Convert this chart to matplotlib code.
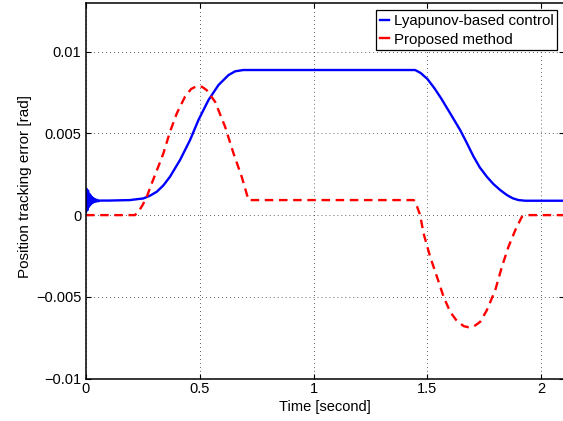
import matplotlib
matplotlib.use("Agg")
import matplotlib.pyplot as plt
from matplotlib.ticker import FuncFormatter

# ---- data ----
lyap_t = [0.000, 0.003, 0.006, 0.009, 0.012, 0.015, 0.018, 0.021, 0.024, 0.027,
          0.030, 0.034, 0.038, 0.042, 0.046, 0.050, 0.055, 0.060, 0.100, 0.193,
          0.252, 0.280, 0.311, 0.340, 0.369, 0.413, 0.457, 0.494, 0.538, 0.582,
          0.626, 0.655, 0.691, 1.000, 1.446, 1.470, 1.500, 1.530, 1.560, 1.600,
          1.644, 1.670, 1.702, 1.730, 1.761, 1.790, 1.820, 1.850, 1.875, 1.900,
          1.930, 2.100]
lyap_v = [0.00020, 0.00160, 0.00030, 0.00150, 0.00050, 0.00130, 0.00060, 0.00120,
          0.00070, 0.00110, 0.00075, 0.00102, 0.00080, 0.00097, 0.00083, 0.00093,
          0.00085, 0.00089, 0.00089, 0.00092, 0.00102, 0.00118, 0.00143, 0.00182,
          0.00235, 0.00337, 0.00459, 0.00582, 0.00704, 0.00796, 0.00857, 0.00880,
          0.00888, 0.00888, 0.00888, 0.00870, 0.00833, 0.00778, 0.00715, 0.00623,
          0.00520, 0.00450, 0.00360, 0.00292, 0.00235, 0.00190, 0.00153, 0.00122,
          0.00103, 0.00092, 0.00088, 0.00088]

prop_t = [0.000, 0.215, 0.230, 0.248, 0.267, 0.285, 0.303, 0.322, 0.340, 0.369,
          0.399, 0.435, 0.462, 0.487, 0.510, 0.530, 0.567, 0.611, 0.648, 0.684,
          0.714, 0.730, 1.440, 1.455, 1.468, 1.483, 1.512, 1.542, 1.571, 1.600,
          1.625, 1.644, 1.660, 1.680, 1.705, 1.732, 1.761, 1.798, 1.827, 1.856,
          1.886, 1.915, 1.944, 2.100]
prop_v = [0.00000, 0.00000, 0.00020, 0.00060, 0.00112, 0.00180, 0.00245, 0.00312,
          0.00378, 0.00510, 0.00623, 0.00725, 0.00772, 0.00790, 0.00785, 0.00765,
          0.00694, 0.00541, 0.00378, 0.00235, 0.00092, 0.00092, 0.00092, 0.00050,
          0.00000, -0.00112, -0.00255, -0.00378, -0.00500, -0.00592, -0.00640,
          -0.00663, -0.00680, -0.00686, -0.00680, -0.00653, -0.00582, -0.00459,
          -0.00317, -0.00194, -0.00092, -0.00010, 0.00000, 0.00000]

labels = ["Lyapunov-based control", "Proposed method"]
xticks = [0, 0.5, 1, 1.5, 2]
yticks = [-0.01, -0.005, 0, 0.005, 0.01]

# ---- figure ----
plt.rcParams['font.family'] = ['Liberation Sans', 'DejaVu Sans']
W, H = 563, 421
fig = plt.figure(figsize=(W / 100, H / 100), dpi=100)
left, right, bottom, top = 86, 564, 421 - 378.5, 421 - 2.7
ax = fig.add_axes([left / W, bottom / H, (right - left) / W, (top - bottom) / H])

ax.plot(lyap_t, lyap_v, color='#0000ff', lw=1.7, label=labels[0])
ax.plot(prop_t, prop_v, color='#ff0000', lw=1.7, ls=(0, (3.6, 2.4)), label=labels[1])

ax.set_xlim(0, 2.1)
ax.set_ylim(-0.01, 0.013)
ax.set_xticks(xticks)
ax.set_yticks(yticks)


def fmt(v, pos):
    if abs(v) < 1e-12:
        return '0'
    return ('%g' % v).replace('-', '\u2212')


ax.xaxis.set_major_formatter(FuncFormatter(fmt))
ax.yaxis.set_major_formatter(FuncFormatter(fmt))
ax.tick_params(direction='in', length=3.5, width=0.8, labelsize=10.5,
               top=True, right=True, colors='black')
ax.tick_params(axis='x', pad=2.5)
ax.tick_params(axis='y', pad=3.5)
ax.grid(True, color='black', linestyle=(0, (0.6, 3.5)), linewidth=0.7)
for s in ax.spines.values():
    s.set_linewidth(1.1)
    s.set_color('black')

ax.set_xlabel('Time [second]', fontsize=10.5)
ax.xaxis.set_label_coords(0.5, -0.058)
ax.set_ylabel('Position tracking error [rad]', fontsize=11)
ax.yaxis.set_label_coords(-0.113, 0.512)

leg = ax.legend(loc='upper right', bbox_to_anchor=(557 / W, 1 - 10 / H),
                bbox_transform=fig.transFigure, borderaxespad=0,
                fontsize=10.8, handlelength=0.6, handletextpad=0.3,
                borderpad=0.25, labelspacing=0.32, fancybox=False,
                framealpha=1, edgecolor='black')
leg.get_frame().set_linewidth(0.9)
for ln in leg.get_lines():
    ln.set_linestyle('-')

fig.savefig('out.png', dpi=100)
